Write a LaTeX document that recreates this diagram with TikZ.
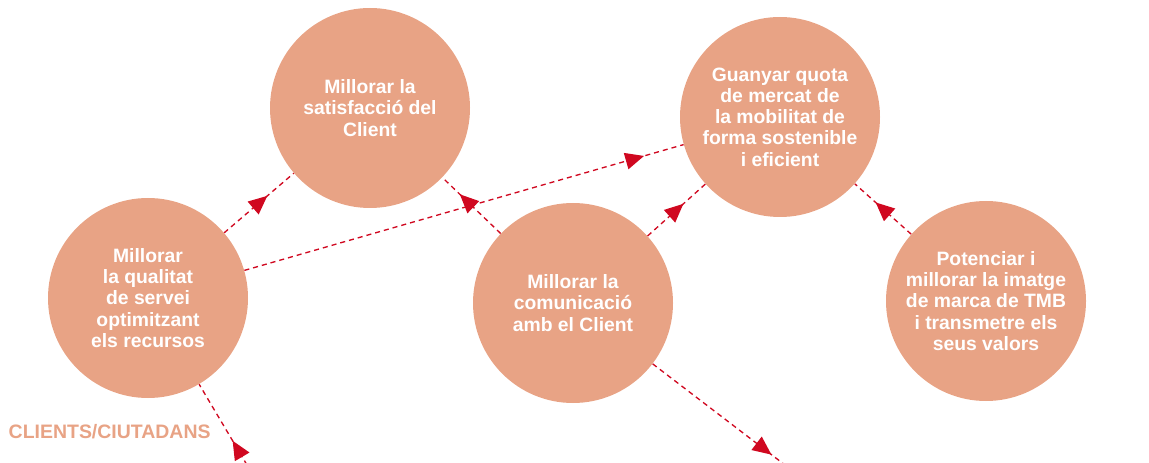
\documentclass[tikz,border=0pt]{standalone}
\usepackage{fontspec}
\setmainfont{Liberation Sans}
\usetikzlibrary{arrows.meta, decorations.markings}
\definecolor{tmbSalmon}{RGB}{232,163,133}
\definecolor{tmbRed}{RGB}{208,8,32}

\begin{document}
\begin{tikzpicture}[
    x=0.75pt, y=-0.75pt,
    goal/.style={circle, fill=tmbSalmon, text=white, minimum size=150pt, inner sep=0pt, align=center, font=\bfseries\fontsize{14.5}{15.9}\selectfont},
    tag/.style={anchor=west, text=tmbSalmon, font=\bfseries\fontsize{14.6}{16}\selectfont},
    flow/.style={tmbRed, line width=1pt, dash pattern=on 3.8pt off 3pt, postaction=decorate,
        decoration={markings, mark=at position #1 with {\arrow{Triangle[length=14pt, width=12.5pt]}}}},
    flow/.default=0.6
]
\useasboundingbox (0,0) rectangle (1149,463);

% Objectives
\node[goal] (satisfaccio) at (370,108) {Millorar la\\satisfacció del\\Client};
\node[goal] (quota) at (780,117) {Guanyar quota\\de mercat de\\la mobilitat de\\forma sostenible\\i eficient};
\node[goal] (qualitat) at (148,298) {Millorar\\la qualitat\\de servei\\optimitzant\\els recursos};
\node[goal] (comunicacio) at (573,303) {Millorar la\\comunicació\\amb el Client};
\node[goal] (imatge) at (986,301) {Potenciar i\\millorar la imatge\\de marca de TMB\\i transmetre els\\seus valors};

\node[tag] (clients) at (4,432) {CLIENTS/CIUTADANS};

\coordinate (entrada) at (247,465);
\coordinate (sortida) at (785,465);

% Links
\draw[flow=0.3] (entrada) -- (qualitat);
\draw[flow=0.62] (qualitat) -- (satisfaccio);
\draw[flow=0.91] (qualitat) -- (quota);
\draw[flow=0.7] (comunicacio) -- (satisfaccio);
\draw[flow=0.62] (comunicacio) -- (quota);
\draw[flow=0.63] (imatge) -- (quota);
\draw[flow=0.9] (comunicacio) -- (sortida);

\end{tikzpicture}
\end{document}
